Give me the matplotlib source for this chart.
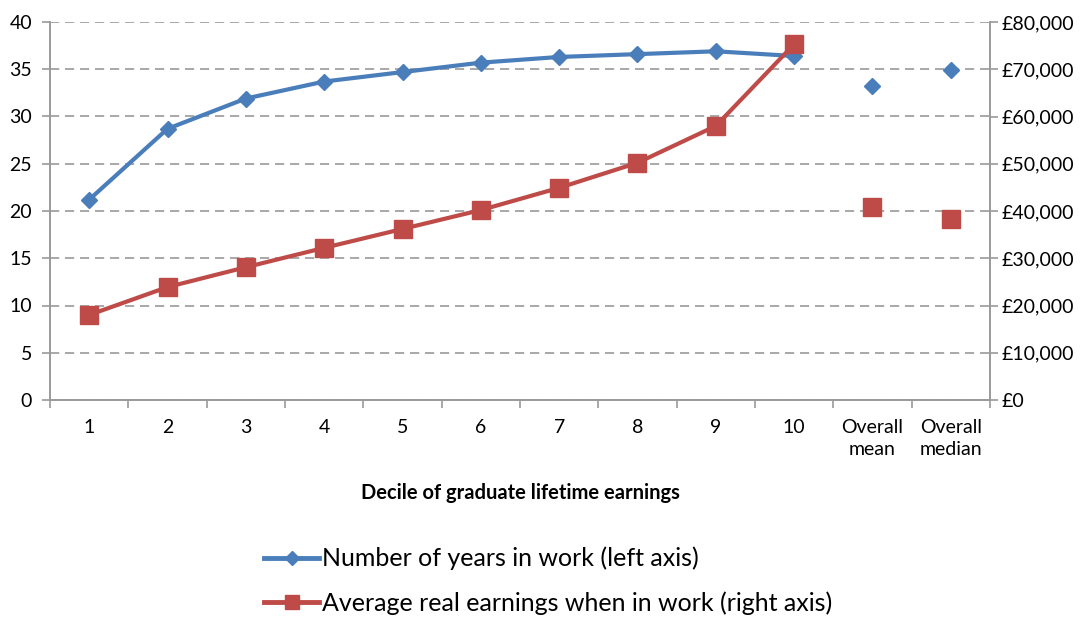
import numpy as np
import matplotlib
matplotlib.use('Agg')
import matplotlib.pyplot as plt
from matplotlib.lines import Line2D
from matplotlib.ticker import FuncFormatter, FixedLocator, NullFormatter

plt.rcParams['font.family'] = ['Lato', 'DejaVu Sans']

# Data
categories = ['1', '2', '3', '4', '5', '6', '7', '8', '9', '10', 'Overall\nmean', 'Overall\nmedian']
years_in_work = [21.2, 28.7, 31.9, 33.7, 34.7, 35.7, 36.3, 36.6, 36.9, 36.4, 33.2, 34.9]
avg_earnings = [18000, 23900, 28100, 32200, 36200, 40200, 44900, 50200, 58000, 75300, 40800, 38300]

blue = '#4A7EBB'
red = '#BE4B48'
grey = '#9A9A9A'

fig = plt.figure(figsize=(10.88, 6.19), dpi=100)
ax = fig.add_axes([50 / 1088, 1 - 400 / 619, 940 / 1088, 378 / 619])
ax2 = ax.twinx()

x = np.arange(len(categories))
n_dec = 10

# Number of years in work (left axis)
ax.plot(x[:n_dec], years_in_work[:n_dec], color=blue, lw=3, marker='D', ms=8.5)
ax.plot(x[n_dec:], years_in_work[n_dec:], color=blue, lw=0, marker='D', ms=8.5)

# Average real earnings (right axis)
ax2.plot(x[:n_dec], avg_earnings[:n_dec], color=red, lw=3, marker='s', ms=13)
ax2.plot(x[n_dec:], avg_earnings[n_dec:], color=red, lw=0, marker='s', ms=13)

ax.set_xlim(-0.5, len(categories) - 0.5)
ax.set_ylim(0, 40)
ax2.set_ylim(0, 80000)
ax.set_yticks(range(0, 41, 5))
ax2.set_yticks(range(0, 80001, 10000))
ax2.yaxis.set_major_formatter(FuncFormatter(lambda v, p: '£{:,.0f}'.format(v)))

# category labels centred, tick marks on boundaries
ax.set_xticks(x)
ax.set_xticklabels(categories, fontsize=14, linespacing=1.3, va='top')
ax.tick_params(axis='x', which='major', length=0, pad=14)
ax.xaxis.set_minor_locator(FixedLocator(np.arange(-0.5, len(categories), 1)))
ax.xaxis.set_minor_formatter(NullFormatter())
ax.tick_params(axis='x', which='minor', length=6, color=grey, width=1.2)

ax.tick_params(axis='y', labelsize=14, color=grey, length=6, width=1.2, pad=7)
ax2.tick_params(axis='y', labelsize=14, color=grey, length=6, width=1.2, pad=2)

ax.grid(axis='y', linestyle=(0, (5.5, 3.5)), color=grey, lw=1.2)
for a in (ax, ax2):
    a.spines['top'].set_visible(False)
    for s in ('left', 'right', 'bottom'):
        a.spines[s].set_color(grey)
        a.spines[s].set_linewidth(1.2)

ax.set_xlabel('Decile of graduate lifetime earnings', fontsize=14.5, fontweight='bold', labelpad=18)

handles = [Line2D([], [], color=blue, lw=3.5, marker='D', ms=7),
           Line2D([], [], color=red, lw=3.5, marker='s', ms=10)]
labels = ['Number of years in work (left axis)',
          'Average real earnings when in work (right axis)']
fig.legend(handles, labels, loc='center', bbox_to_anchor=(548 / 1088, 1 - 581 / 619),
           frameon=False, fontsize=18, handlelength=2.2, handletextpad=0.1, labelspacing=0.85)

fig.savefig('out.png', dpi=100)
